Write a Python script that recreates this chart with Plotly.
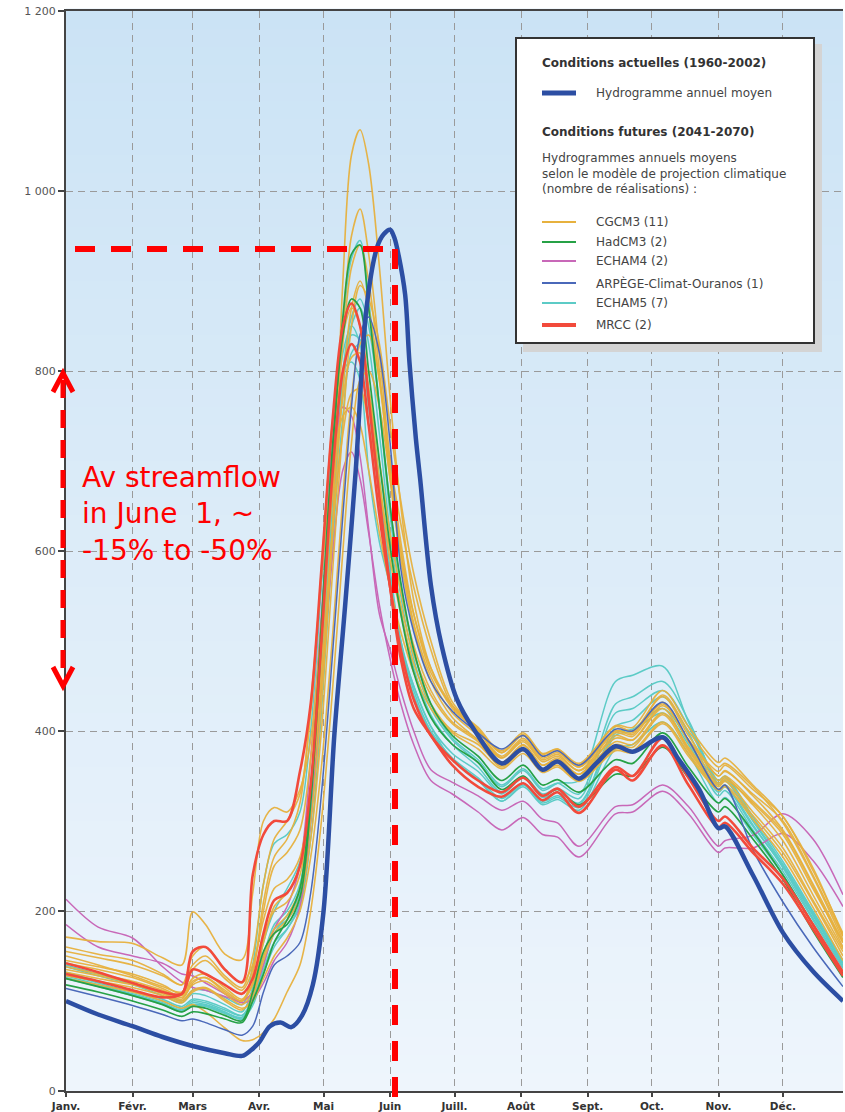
import plotly.graph_objects as go

# ---------------------------------------------------------------- data
MONTH_DAYS = [0, 31, 59, 90, 120, 151, 181, 212, 243, 273, 304, 334]
MONTH_LABELS = ["Janv.", "Févr.", "Mars", "Avr.", "Mai", "Juin",
                "Juill.", "Août", "Sept.", "Oct.", "Nov.", "Déc."]
Y_TICKS = [0, 200, 400, 600, 800, 1000, 1200]
Y_TICK_TEXT = ["0", "200", "400", "600", "800", "1 000", "1 200"]

# Current conditions (1960-2002): mean annual hydrograph
OBS_DAYS = [0, 15, 31, 45, 59, 74, 82, 86, 90, 95, 100, 105, 110, 115, 120, 125,
            130, 135, 140, 145, 148, 151, 153, 155, 158, 160, 163, 165, 170, 175,
            182, 190, 203, 213, 222, 229, 239, 247, 256, 264, 278, 285, 295, 304,
            307, 320, 334, 348, 362]
OBS_FLOW = [100, 85, 72, 60, 50, 42, 39, 45, 54, 72, 76, 71, 84, 118, 200, 395,
            538, 690, 870, 938, 952, 957, 948, 928, 885, 810, 725, 680, 562, 495,
            436, 402, 364, 380, 357, 366, 347, 364, 383, 377, 393, 370, 335, 292,
            294, 240, 176, 133, 100]

# Future conditions (2041-2070): one row per model run
FUT_DAYS = [0, 15, 31, 45, 54, 59, 65, 74, 82, 87, 92, 97, 103, 109, 114, 119,
            124, 129, 133, 137, 141, 146, 151, 156, 162, 170, 180, 192, 203, 213,
            222, 229, 239, 256, 264, 278, 290, 304, 307, 320, 334, 348, 362]

CGCM3_RUNS = [
    [160, 152, 145, 130, 118, 150, 160, 135, 120, 140, 190, 225, 235, 260, 330, 450,
     620, 900, 1040, 1068, 1030, 916, 770, 650, 545, 470, 425, 400, 378, 398,
     375, 380, 362, 405, 400, 438, 395, 350, 355, 330, 300, 240, 172],
    [171, 166, 164, 148, 140, 199, 185, 152, 146, 220, 300, 315, 310, 335, 390, 520,
     700, 850, 950, 980, 930, 820, 700, 610, 530, 465, 428, 404, 376, 395,
     372, 378, 360, 400, 398, 430, 390, 355, 362, 335, 305, 245, 175],
    [145, 138, 130, 118, 108, 125, 130, 115, 102, 120, 170, 200, 210, 240, 330, 480,
     670, 830, 915, 940, 900, 800, 680, 590, 515, 455, 415, 390, 365, 385,
     362, 368, 352, 395, 390, 425, 380, 340, 346, 320, 285, 225, 165],
    [138, 130, 122, 112, 104, 118, 122, 108, 96, 110, 150, 180, 195, 225, 300, 430,
     610, 780, 870, 900, 870, 790, 690, 600, 520, 460, 420, 395, 370, 390,
     368, 374, 356, 398, 394, 432, 388, 345, 350, 322, 288, 228, 160],
    [155, 148, 140, 128, 118, 140, 150, 128, 115, 150, 230, 280, 300, 330, 420, 580,
     740, 840, 870, 850, 780, 680, 590, 530, 475, 430, 400, 385, 362, 380,
     358, 365, 348, 385, 382, 418, 378, 338, 344, 310, 270, 212, 155],
    [132, 125, 118, 108, 100, 112, 115, 102, 92, 100, 125, 150, 170, 200, 260, 360,
     500, 660, 770, 830, 840, 790, 700, 630, 560, 490, 428, 400, 372, 392,
     370, 376, 360, 400, 396, 440, 400, 360, 364, 338, 298, 238, 168],
    [150, 140, 128, 116, 110, 135, 145, 125, 112, 135, 200, 250, 265, 290, 370, 500,
     660, 770, 815, 820, 780, 700, 620, 555, 495, 445, 410, 390, 365, 384,
     362, 370, 352, 388, 385, 420, 382, 342, 348, 318, 278, 218, 158],
    [125, 118, 110, 100, 92, 96, 88, 70, 56, 57, 65, 80, 110, 140, 200, 300,
     440, 600, 720, 790, 800, 760, 680, 600, 530, 470, 428, 400, 370, 388,
     366, 372, 356, 392, 390, 428, 390, 350, 356, 328, 290, 230, 165],
    [142, 135, 126, 114, 106, 122, 126, 112, 100, 118, 165, 205, 220, 250, 330, 460,
     620, 730, 775, 780, 740, 670, 600, 540, 485, 440, 408, 388, 360, 378,
     356, 362, 345, 380, 378, 410, 375, 335, 340, 306, 265, 210, 150],
    [135, 128, 120, 110, 102, 120, 126, 110, 100, 130, 210, 260, 280, 320, 430, 570,
     690, 750, 760, 740, 690, 620, 560, 510, 465, 425, 398, 380, 358, 375,
     354, 360, 344, 378, 376, 408, 372, 334, 338, 302, 260, 204, 145],
    [128, 122, 115, 106, 98, 110, 114, 100, 90, 105, 145, 175, 190, 215, 280, 400,
     570, 740, 850, 895, 880, 830, 740, 655, 575, 500, 432, 402, 376, 396,
     374, 380, 364, 406, 404, 445, 405, 365, 370, 340, 305, 248, 172],
]
HADCM3_RUNS = [
    [125, 116, 106, 96, 88, 94, 92, 84, 78, 110, 155, 175, 185, 215, 320, 500,
     700, 860, 930, 940, 870, 760, 650, 565, 490, 430, 395, 372, 345, 362,
     340, 346, 332, 368, 364, 398, 360, 320, 325, 288, 240, 185, 130],
    [118, 110, 100, 90, 83, 88, 86, 80, 76, 100, 130, 165, 190, 225, 330, 520,
     710, 840, 880, 870, 800, 700, 605, 530, 465, 415, 385, 365, 335, 350,
     328, 335, 318, 352, 350, 382, 348, 310, 316, 280, 235, 178, 126],
]
ECHAM4_RUNS = [
    [213, 182, 170, 138, 121, 115, 112, 105, 100, 110, 140, 180, 205, 250, 370, 530,
     680, 760, 750, 705, 625, 530, 490, 445, 400, 357, 343, 328, 312, 322,
     302, 298, 272, 316, 318, 340, 316, 272, 278, 284, 308, 280, 218],
    [185, 160, 150, 142, 130, 128, 120, 108, 98, 102, 120, 145, 165, 205, 300, 450,
     590, 690, 710, 680, 620, 540, 480, 430, 385, 345, 330, 310, 290, 304,
     285, 282, 260, 308, 310, 333, 308, 265, 270, 270, 286, 256, 205],
]
ARPEGE_RUNS = [
    [114, 105, 95, 85, 78, 80, 76, 68, 62, 72, 110, 140, 150, 165, 220, 330,
     480, 640, 760, 840, 860, 820, 720, 580, 510, 455, 422, 398, 380, 395,
     372, 378, 362, 402, 400, 432, 390, 335, 340, 268, 210, 160, 116],
]
ECHAM5_RUNS = [
    [138, 128, 118, 106, 98, 108, 106, 96, 88, 115, 165, 200, 225, 255, 340, 500,
     690, 850, 925, 945, 880, 760, 640, 550, 480, 425, 390, 365, 338, 356,
     334, 342, 345, 455, 462, 472, 410, 345, 350, 305, 255, 200, 145],
    [132, 122, 112, 102, 94, 102, 100, 92, 84, 100, 140, 175, 195, 220, 300, 450,
     630, 780, 850, 870, 830, 730, 620, 535, 470, 418, 385, 360, 332, 350,
     330, 336, 325, 420, 425, 445, 405, 340, 345, 300, 250, 195, 140],
    [128, 118, 108, 98, 90, 98, 96, 88, 80, 95, 130, 160, 180, 205, 280, 420,
     600, 750, 820, 830, 780, 680, 580, 500, 445, 400, 370, 348, 325, 342,
     322, 328, 318, 405, 412, 438, 398, 335, 340, 296, 248, 192, 138],
    [125, 116, 106, 96, 88, 95, 94, 86, 80, 100, 150, 180, 190, 220, 330, 520,
     700, 800, 810, 790, 690, 610, 560, 495, 450, 405, 368, 345, 322, 338,
     318, 324, 312, 380, 385, 410, 375, 320, 326, 285, 240, 186, 132],
    [140, 130, 120, 110, 100, 112, 112, 104, 96, 140, 230, 275, 285, 310, 400, 560,
     720, 820, 850, 830, 760, 660, 570, 500, 450, 405, 375, 355, 330, 348,
     326, 332, 320, 398, 402, 425, 388, 332, 338, 294, 250, 196, 142],
    [130, 120, 110, 100, 92, 100, 98, 90, 84, 105, 150, 185, 200, 230, 320, 480,
     660, 800, 860, 880, 850, 760, 650, 560, 490, 430, 392, 368, 340, 358,
     336, 342, 330, 430, 438, 455, 412, 342, 348, 302, 252, 198, 142],
    [126, 117, 107, 97, 90, 96, 95, 87, 82, 98, 135, 165, 180, 210, 300, 460,
     650, 790, 840, 835, 770, 670, 570, 495, 440, 398, 368, 346, 322, 340,
     320, 326, 315, 395, 400, 420, 385, 328, 334, 290, 244, 190, 136],
]
MRCC_RUNS = [
    [142, 132, 120, 110, 108, 155, 160, 135, 121, 240, 285, 300, 300, 355, 430, 580,
     740, 850, 875, 850, 770, 660, 560, 480, 425, 395, 362, 338, 327, 342,
     323, 332, 309, 357, 345, 384, 340, 293, 298, 265, 230, 180, 128],
    [130, 122, 112, 104, 108, 135, 130, 118, 108, 125, 175, 212, 220, 250, 340, 500,
     680, 800, 830, 810, 740, 640, 560, 490, 435, 395, 368, 345, 332, 348,
     328, 336, 316, 360, 350, 392, 348, 300, 305, 270, 236, 185, 132],
]

# ---------------------------------------------------------------- styling
W, H = 845, 1112
M_L, M_R, M_T, M_B = 66, 2, 11, 21
FONT = "DejaVu Sans"

C_ORANGE = "#e7b13e"
C_GREEN = "#26a146"
C_PINK = "#c868b8"
C_ARPEGE = "#4a68b9"
C_CYAN = "#5ccbc6"
C_RED = "#f24a3b"
C_OBS = "#2c4ea3"
C_ANNOT = "#ff0000"


def fx(p):
    """Pixel column -> paper x."""
    return (p - M_L) / (W - M_L - M_R)


def fy(p):
    """Pixel row -> paper y."""
    return (H - M_B - p) / (H - M_T - M_B)


fig = go.Figure()


def add_runs(runs, color, width, opacity=1.0):
    for run in runs:
        fig.add_trace(go.Scatter(
            x=FUT_DAYS, y=run, mode="lines",
            line=dict(color=color, width=width, shape="spline", smoothing=0.9),
            opacity=opacity, hoverinfo="skip", showlegend=False))


add_runs(ECHAM5_RUNS, C_CYAN, 1.5)
add_runs(ECHAM4_RUNS, C_PINK, 1.5)
add_runs(CGCM3_RUNS, C_ORANGE, 1.6, 0.95)
add_runs(HADCM3_RUNS, C_GREEN, 1.7)
add_runs(ARPEGE_RUNS, C_ARPEGE, 1.5)
add_runs(MRCC_RUNS, C_RED, 2.6)

fig.add_trace(go.Scatter(
    x=OBS_DAYS, y=OBS_FLOW, mode="lines",
    line=dict(color=C_OBS, width=4.5, shape="spline", smoothing=0.9),
    hoverinfo="skip", showlegend=False))

shapes = []

# soft vertical gradient behind the plot
top_rgb, bot_rgb = (203, 227, 245), (238, 245, 252)
n_bands = 60
for i in range(n_bands):
    t = (i + 0.5) / n_bands
    rgb = tuple(round(b + (a - b) * t) for a, b in zip(top_rgb, bot_rgb))
    shapes.append(dict(type="rect", xref="paper", yref="paper",
                       x0=0, x1=1, y0=i / n_bands, y1=(i + 1) / n_bands + 0.002,
                       fillcolor="rgb(%d,%d,%d)" % rgb, line=dict(width=0),
                       layer="below"))

# legend box with drop shadow
shapes.append(dict(type="rect", xref="paper", yref="paper",
                   x0=fx(523), x1=fx(822), y0=fy(352), y1=fy(44),
                   fillcolor="#d4d4d4", line=dict(width=0)))
shapes.append(dict(type="rect", xref="paper", yref="paper",
                   x0=fx(516), x1=fx(814), y0=fy(343), y1=fy(38),
                   fillcolor="white", line=dict(color="#333333", width=2)))

annotations = []


def legend_text(text, xp, yp, size=12, color="#444444"):
    annotations.append(dict(text=text, xref="paper", yref="paper",
                            x=fx(xp), y=fy(yp), xanchor="left", yanchor="middle",
                            showarrow=False, align="left",
                            font=dict(family=FONT, size=size, color=color)))


def legend_swatch(yp, color, width):
    shapes.append(dict(type="line", xref="paper", yref="paper",
                       x0=fx(542), x1=fx(576), y0=fy(yp), y1=fy(yp),
                       line=dict(color=color, width=width)))


legend_text("<b>Conditions actuelles (1960-2002)</b>", 540, 63, color="#333333")
legend_swatch(93, C_OBS, 5)
legend_text("Hydrogramme annuel moyen", 594, 93)
legend_text("<b>Conditions futures (2041-2070)</b>", 540, 132, color="#333333")
legend_text("Hydrogrammes annuels moyens<br>selon le modèle de projection climatique"
            "<br>(nombre de réalisations) :", 540, 174)

legend_rows = [
    ("CGCM3 (%d)" % len(CGCM3_RUNS), C_ORANGE, 2, 222),
    ("HadCM3 (%d)" % len(HADCM3_RUNS), C_GREEN, 2, 242),
    ("ECHAM4 (%d)" % len(ECHAM4_RUNS), C_PINK, 2, 261),
    ("ARPÈGE-Climat-Ouranos (%d)" % len(ARPEGE_RUNS), C_ARPEGE, 2, 283),
    ("ECHAM5 (%d)" % len(ECHAM5_RUNS), C_CYAN, 2, 303),
    ("MRCC (%d)" % len(MRCC_RUNS), C_RED, 4, 325),
]
for label, color, width, yp in legend_rows:
    legend_swatch(yp, color, width)
    legend_text(label, 594, yp)

# red call-outs: peak level, June 1 marker and range arrow
RED_DASH = "20px,16px"
shapes.append(dict(type="line", xref="paper", yref="paper",
                   x0=fx(75), x1=fx(398), y0=fy(249), y1=fy(249),
                   line=dict(color=C_ANNOT, width=6, dash=RED_DASH)))
shapes.append(dict(type="line", xref="paper", yref="paper",
                   x0=fx(395), x1=fx(395), y0=fy(249), y1=fy(1125),
                   line=dict(color=C_ANNOT, width=6, dash=RED_DASH)))
shapes.append(dict(type="line", xref="paper", yref="paper",
                   x0=fx(63), x1=fx(63), y0=fy(380), y1=fy(680),
                   line=dict(color=C_ANNOT, width=5, dash="18px,12px")))
for tip, arm in ((373, 392), (686, 667)):
    shapes.append(dict(type="path", xref="paper", yref="paper",
                       path="M %f,%f L %f,%f L %f,%f" % (fx(53), fy(arm), fx(63), fy(tip),
                                                         fx(73), fy(arm)),
                       line=dict(color=C_ANNOT, width=5)))

annotations.append(dict(text="Av streamflow<br>in June  1, ~<br>-15% to -50%",
                        xref="paper", yref="paper", x=fx(80), y=fy(514),
                        xanchor="left", yanchor="middle", align="left",
                        showarrow=False,
                        font=dict(family=FONT, size=28, color=C_ANNOT)))

fig.update_layout(
    width=W, height=H,
    margin=dict(l=M_L, r=M_R, t=M_T, b=M_B, pad=0, autoexpand=False),
    paper_bgcolor="white",
    plot_bgcolor="rgb(238,245,252)",
    shapes=shapes,
    annotations=annotations,
    showlegend=False,
)

fig.update_xaxes(
    range=[0, 362], tickvals=MONTH_DAYS, ticktext=MONTH_LABELS,
    ticks="outside", ticklen=4, tickwidth=1.5, tickcolor="#444444",
    ticklabelstandoff=0, automargin=False,
    tickfont=dict(family=FONT, size=10.5, color="#333333", weight="bold"),
    showgrid=True, gridcolor="#9a9a9a", gridwidth=1.4, griddash="7px,5px",
    showline=True, linecolor="#444444", linewidth=2, mirror=True,
    zeroline=False,
)
fig.update_yaxes(
    range=[0, 1200], tickvals=Y_TICKS, ticktext=Y_TICK_TEXT,
    ticks="outside", ticklen=6, tickwidth=1.5, tickcolor="#444444",
    automargin=False,
    tickfont=dict(family=FONT, size=11, color="#555555"),
    showgrid=True, gridcolor="#9a9a9a", gridwidth=1.4, griddash="7px,5px",
    showline=True, linecolor="#444444", linewidth=2,
    zeroline=False,
)

fig.write_html("out.html")
